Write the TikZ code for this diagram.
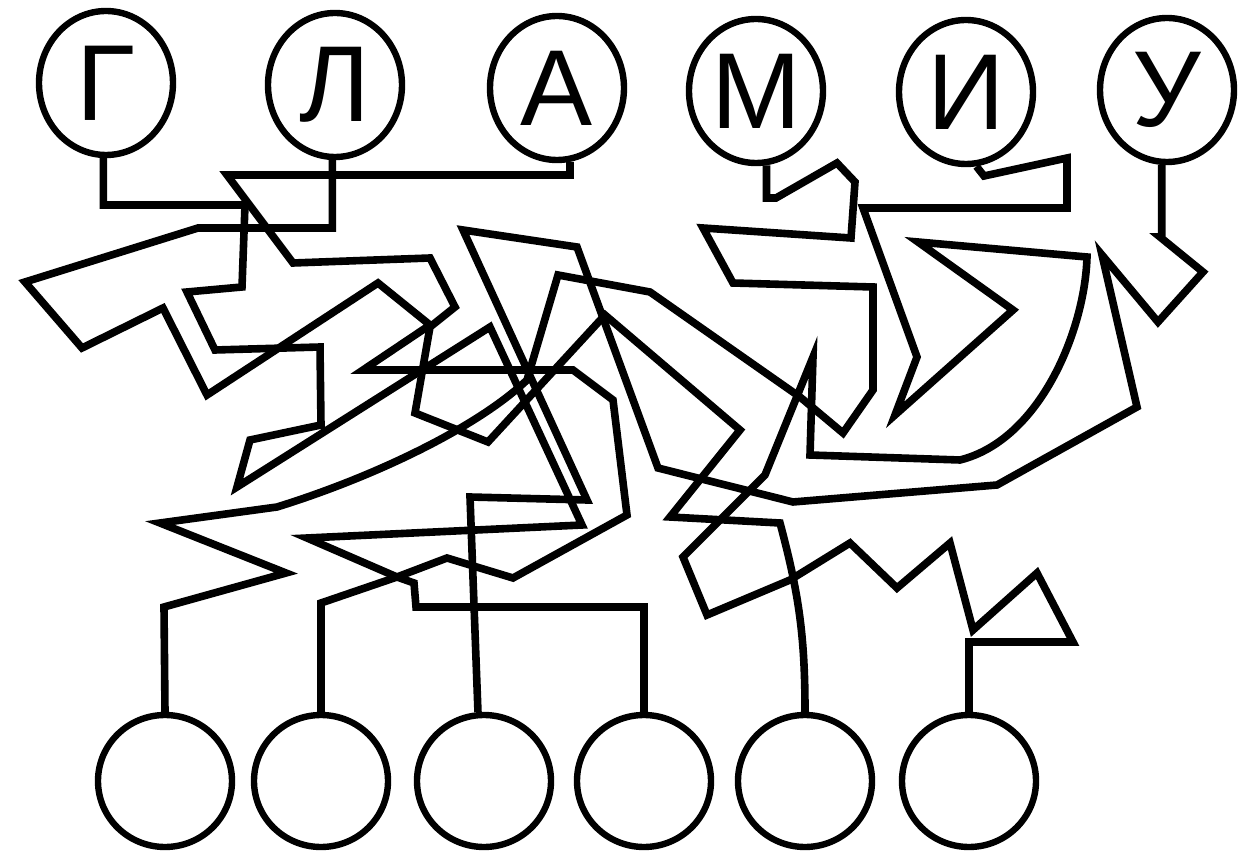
\documentclass[tikz,border=0pt]{standalone}
\usepackage{fontspec}
\setmainfont{Liberation Sans}
\usetikzlibrary{shapes.geometric}

\begin{document}
\begin{tikzpicture}[x=0.5pt, y=-0.5pt,
  letter/.style={ellipse, draw, line width=3.2pt, minimum width=67pt,
    minimum height=72pt, inner sep=0pt, font=\fontsize{54}{54}\selectfont},
  blank/.style={ellipse, draw, line width=3.2pt, minimum width=67pt,
    minimum height=66pt, inner sep=0pt},
  wire/.style={line width=3.8pt}]

\useasboundingbox (0,0) rectangle (1254,855);

% letters on top
\node[letter] (G) at (106,83) {Г};
\node[letter] (L) at (335,85) {Л};
\node[letter] (A) at (557,88) {А};
\node[letter] (M) at (756,91) {М};
\node[letter] (I) at (966,92) {И};
\node[letter] (U) at (1167,90) {У};

% empty circles below
\node[blank] (b1) at (165,781) {};
\node[blank] (b2) at (321,781) {};
\node[blank] (b3) at (484,781) {};
\node[blank] (b4) at (644,781) {};
\node[blank] (b5) at (805,781) {};
\node[blank] (b6) at (969,781) {};

% the tangled lines
\draw[wire] (G.-92) |- (245,205) -- (242,287) -- (187,292) -- (215,350)
  -- (320,347) -- (321,425) -- (250,440) -- (237,487) -- (490,327)
  -- (582,525) -- (307,538) -- (397,577) -- (414,583) -- (416,607)
  -| (b4.north);

\draw[wire] (L.-92) |- (198,228) -- (25,282) -- (82,348) -- (163,308)
  -- (207,395) -- (378,283) -- (430,325) -- (363,370) -- (573,370)
  -- (613,400) -- (627,515) -- (513,578) -- (447,558) -- (397,577)
  -- (321,603) -- (b2.north);

\draw[wire] (A.-80) |- (227,175) -- (293,263) -- (430,258) -- (455,307)
  -- (430,327) -- (415,413) -- (488,442) -- (605,315) -- (740,430)
  -- (670,517) -- (780,523) to[out=-75,in=90] (b5.north);

\draw[wire] (M.-82) |- (776,198) -- (837,163) -- (855,182) -- (851,238)
  -- (703,228) -- (733,283) -- (873,287) -- (873,390) -- (843,433)
  -- (800,397) -- (650,292) -- (558,275) -- (527,380)
  .. controls (480,425) and (380,475) .. (277,507) -- (160,523)
  -- (286,573) -- (164,607) -- (b1.north);

\draw[wire] (I.-82) -- (984,176) -- (1067,158) -- (1067,208) -- (863,208)
  -- (917,357) -- (895,415) -- (1013,310) -- (918,242) -- (1087,257)
  .. controls (1085,330) and (1040,440) .. (960,460) -- (810,455)
  -- (813,357) -- (765,475) -- (683,557) -- (707,615) -- (790,580)
  -- (850,543) -- (897,588) -- (950,543) -- (973,630) -- (1037,573)
  -- (1073,642) -| (b6.north);

\draw[wire] (U.-94) |- (1160,237) -- (1203,272) -- (1158,322) -- (1102,255)
  -- (1137,407) -- (997,485) -- (793,502) -- (658,468) -- (577,247)
  -- (463,230) -- (587,500) -- (470,497) -- (b3.95);

\end{tikzpicture}
\end{document}
